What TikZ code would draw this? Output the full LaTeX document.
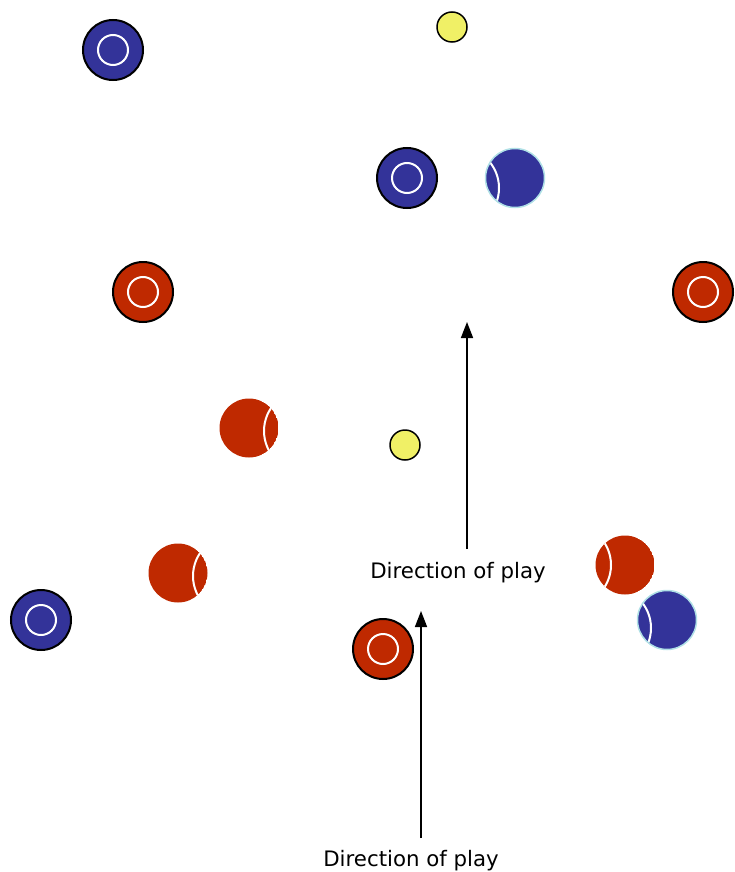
\documentclass[tikz,border=0pt]{standalone}
\usepackage{fontspec}
\setmainfont{DejaVu Sans}
\usetikzlibrary{arrows.meta}
\definecolor{pblue}{RGB}{51,51,153}
\definecolor{pred}{RGB}{191,41,0}
\definecolor{pyellow}{RGB}{240,240,102}
\definecolor{pcyan}{RGB}{176,224,230}
\tikzset{
  x=1pt,y=-1pt,
  ringdisc/.style={line width=2pt,draw=black},
  innerring/.style={draw=white,line width=2pt},
  seam/.style={draw=white,line width=2pt},
  lbl/.style={font=\fontsize{21.3}{25}\selectfont,inner sep=0pt},
  playarrow/.style={line width=1.6pt,-{Triangle[width=12pt,length=16pt]}},
  yball/.style={fill=pyellow,draw=black,line width=1.5pt},
  pics/ringed/.style={code={
     \fill[#1] (0,0) circle (30);
     \draw[ringdisc] (0,0) circle (30);
     \draw[innerring] (0,0) circle (15);
  }},
  pics/ball/.style n args={3}{code={
     \begin{scope}
       \clip (0,0) circle (29.5);
       \fill[#1] (0,0) circle (29.5);
       \draw[seam] (#2) circle (41);
     \end{scope}
     \ifx#3n\else\draw[#3,line width=1.5pt] (0,0) circle (29.5);\fi
  }},
}
\begin{document}
\begin{tikzpicture}
\useasboundingbox (0,0) rectangle (734,872);
% ringed players
\pic at (113,50) {ringed=pblue};
\pic at (407,178) {ringed=pblue};
\pic at (41,620) {ringed=pblue};
\pic at (143,292) {ringed=pred};
\pic at (703,292) {ringed=pred};
\pic at (383,649) {ringed=pred};
% balls with seams
\pic at (515,178) {ball={pblue}{-57,10}{pcyan}};
\pic at (667,620) {ball={pblue}{-57,8}{pcyan}};
\pic at (249,428) {ball={pred}{56,3}{n}};
\pic at (178,573) {ball={pred}{56,3}{n}};
\pic at (625,565) {ball={pred}{-55,0}{n}};
% yellow jacks
\draw[yball] (452,27) circle (15);
\draw[yball] (405,445) circle (15);
% arrows and labels
\node[lbl] (t1) at (458,573) {Direction of play};
\node[lbl] (t2) at (411,861) {Direction of play};
\coordinate (a1s) at (467,549);
\coordinate (a1e) at (467,322);
\coordinate (a2s) at (421,838);
\coordinate (a2e) at (421,611);
\draw[playarrow] (a1s) -- (a1e);
\draw[playarrow] (a2s) -- (a2e);
\end{tikzpicture}
\end{document}
